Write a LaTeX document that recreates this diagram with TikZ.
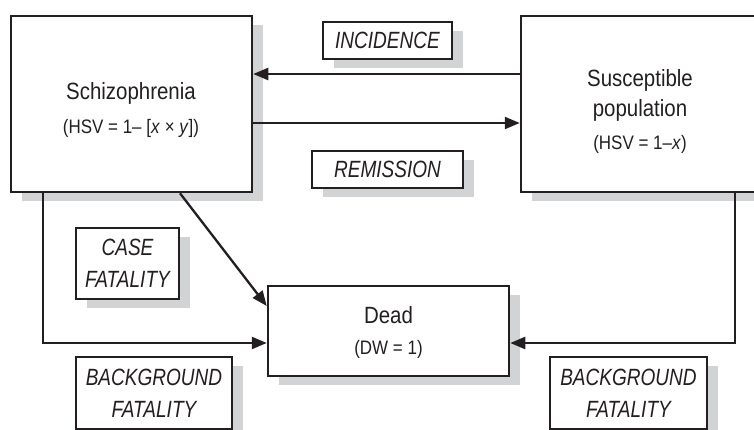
\documentclass[tikz,border=0pt]{standalone}
\usepackage{fontspec}
\setmainfont{Liberation Sans}[FakeStretch=0.87]
\newfontfamily\lblfont{Liberation Sans}[FakeStretch=0.81]
\usetikzlibrary{arrows.meta,shadows}
\definecolor{ink}{HTML}{231F20}
\definecolor{shade}{HTML}{D1D3D4}
\begin{document}
\begin{tikzpicture}[x=1pt,y=-1pt,
  shadowed/.style={drop shadow={shadow xshift=11pt,shadow yshift=-9pt,fill=shade,opacity=1}},
  bigbox/.style={draw=ink,line width=2.5pt,fill=white,shadowed,inner sep=0pt},
  lbl/.style={draw=ink,line width=1.1pt,fill=white,shadowed,inner sep=0pt,align=center,
    font={\lblfont\itshape\fontsize{23.5}{32}\selectfont},text=ink},
  maintext/.style={inner sep=0pt,anchor=base,text=ink,font={\fontsize{23.5}{28}\selectfont}},
  subtext/.style={inner sep=0pt,anchor=base,text=ink,font={\fontsize{19.5}{23}\selectfont}},
  arr/.style={draw=ink,line width=2.3pt,-{Triangle[length=15pt,width=12pt]}}
]
\useasboundingbox (0,0) rectangle (754,430);
\clip (0,0) rectangle (754,430);
% main boxes
\node[bigbox,minimum width=241pt,minimum height=176pt] (schizo) at (131.5,104) {};
\node[bigbox,minimum width=248pt,minimum height=176pt] (suscept) at (645,104) {};
\node[bigbox,minimum width=241pt,minimum height=90pt] (dead) at (388.5,331) {};
% texts of main boxes
\node[maintext] (schizoA) at (131,100) {Schizophrenia};
\node[subtext] (schizoB) at (131,134) {(HSV = 1– [\textit{x} × \textit{y}])};
\node[maintext] (suscA) at (640,87) {Susceptible};
\node[maintext] (suscB) at (640,117) {population};
\node[subtext] (suscC) at (640,150) {(HSV = 1–\textit{x})};
\node[maintext] (deadA) at (388.5,323) {Dead};
\node[subtext] (deadB) at (388.5,354) {(DW = 1)};
% label boxes
\node[lbl,minimum width=129pt,minimum height=37pt] (inc) at (387.5,40.5) {INCIDENCE};
\node[lbl,minimum width=151pt,minimum height=37pt] (rem) at (387.5,169.5) {REMISSION};
\node[lbl,minimum width=103pt,minimum height=71pt] (cf) at (127.5,263.5) {CASE\\FATALITY};
\node[lbl,minimum width=156pt,minimum height=72pt] (bgl) at (154,393) {BACKGROUND\\FATALITY};
\node[lbl,minimum width=157pt,minimum height=72pt] (bgr) at (628.5,393) {BACKGROUND\\FATALITY};
% connectors
\draw[arr] ([yshift=30pt]suscept.west) -- ([yshift=30pt]schizo.east);
\draw[arr] ([yshift=-19pt]schizo.east) -- ([yshift=-19pt]suscept.west);
\draw[arr] ([xshift=-88.5pt]schizo.south) |- ([yshift=-12pt]dead.west);
\draw[arr] ([xshift=48.5pt]schizo.south) -- ([yshift=25pt]dead.west);
\draw[arr] ([xshift=90pt]suscept.south) |- ([yshift=-12pt]dead.east);
\end{tikzpicture}
\end{document}
